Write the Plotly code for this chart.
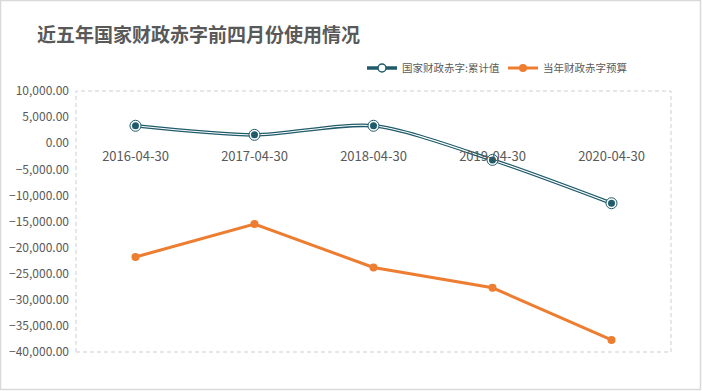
import plotly.graph_objects as go

categories = ["2016-04-30", "2017-04-30", "2018-04-30", "2019-04-30", "2020-04-30"]
deficit_cum = [3340, 1600, 3340, -3200, -11500]
deficit_budget = [-21800, -15500, -23800, -27700, -37700]
name_cum = "国家财政赤字:累计值"
name_budget = "当年财政赤字预算"
title_text = "近五年国家财政赤字前四月份使用情况"

TEAL = "#1f5b6a"
ORANGE = "#ED7D31"
GRAY = "#595959"
FONT = "Noto Sans CJK SC, Microsoft YaHei, sans-serif"

W, H = 702, 391
L, R, T, B = 76, 31, 91, 39

fig = go.Figure()
# teal double line: thick teal under thin white
fig.add_trace(go.Scatter(
    x=categories, y=deficit_cum, name=name_cum, mode="lines+markers",
    line=dict(color=TEAL, width=3.6, shape="spline", smoothing=0.8),
    marker=dict(size=8, color="white", line=dict(color=TEAL, width=1.5)),
))
fig.add_trace(go.Scatter(
    x=categories, y=deficit_cum, mode="lines", showlegend=False, hoverinfo="skip",
    line=dict(color="white", width=1.1, shape="spline", smoothing=0.8),
))
fig.add_trace(go.Scatter(
    x=categories, y=deficit_cum, mode="markers", showlegend=False, hoverinfo="skip",
    marker=dict(size=11, color="white", line=dict(color=TEAL, width=1)),
))
fig.add_trace(go.Scatter(
    x=categories, y=deficit_cum, mode="markers", showlegend=False, hoverinfo="skip",
    marker=dict(size=7, color=TEAL, line=dict(width=0)),
))
fig.add_trace(go.Scatter(
    x=categories, y=deficit_budget, name=name_budget, mode="lines+markers",
    line=dict(color=ORANGE, width=3),
    marker=dict(size=8, color=ORANGE),
))

fig.update_layout(
    width=W, height=H,
    margin=dict(l=L, r=R, t=T, b=B, autoexpand=False),
    paper_bgcolor="white", plot_bgcolor="white",
    font=dict(family=FONT, color=GRAY, size=12),
    title=dict(text=title_text, x=37 / W, xanchor="left", xref="container",
               y=1 - 35 / H, yanchor="middle", yref="container",
               font=dict(family=FONT, size=19, color=GRAY, weight="bold")),
    legend=dict(orientation="h", xref="container", yref="container",
                x=362 / W, xanchor="left", y=1 - 68 / H, yanchor="middle",
                font=dict(size=10.5, color=GRAY), itemwidth=30,
                entrywidth=96, entrywidthmode="pixels",
                tracegroupgap=0, bgcolor="rgba(0,0,0,0)"),
    showlegend=True,
    xaxis=dict(type="category", range=[-0.5, 4.5], anchor="free",
               position=0.8, showgrid=False, zeroline=False, showline=False,
               ticks="", tickfont=dict(size=13, color=GRAY),
               ticklabelstandoff=4, fixedrange=True),
    yaxis=dict(range=[-40000, 10000], dtick=5000, tickformat=",.2f",
               showgrid=False, zeroline=False, showline=False, ticks="",
               tickfont=dict(size=12, color=GRAY), domain=[0, 1],
               ticklabelstandoff=6, fixedrange=True),
    shapes=[
        dict(type="rect", xref="paper", yref="paper", x0=0, x1=1, y0=0, y1=1,
             line=dict(color="#cfcfcf", width=1, dash="4px,3px"), layer="below"),
        dict(type="rect", xref="paper", yref="paper",
             x0=(0.5 - L) / (W - L - R), x1=(700.5 - L) / (W - L - R),
             y0=(H - B - 389.5) / (H - T - B), y1=(H - B - 0.5) / (H - T - B),
             line=dict(color="#d9d9d9", width=1.5), layer="below"),
    ],
)

fig.write_html("out.html", config={"displayModeBar": False},
               post_script="document.body.style.margin='0';document.body.style.overflow='hidden';")
